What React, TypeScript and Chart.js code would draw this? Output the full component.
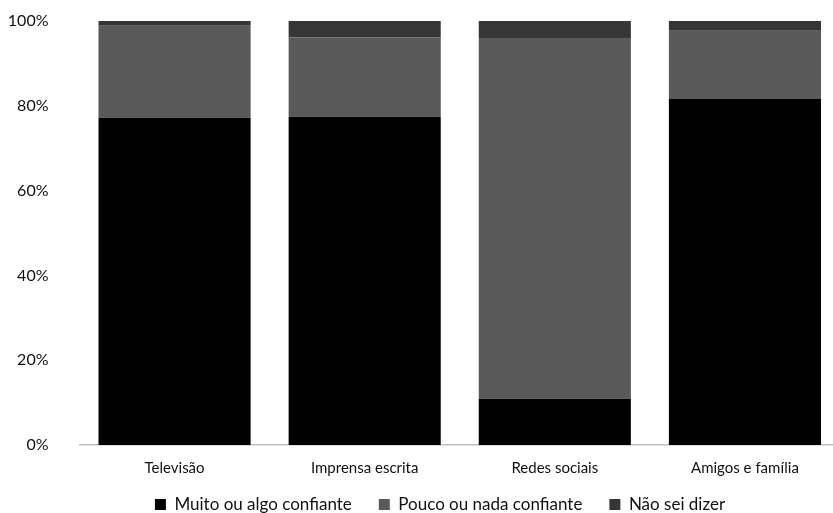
import React, { useEffect, useRef } from "react";
import { Chart, registerables } from "chart.js";

Chart.register(...registerables);

const categories = ["Televisão", "Imprensa escrita", "Redes sociais", "Amigos e família"];
const muitoConfiante = [77.2, 77.4, 10.9, 81.6];
const poucoConfiante = [21.7, 18.7, 85.1, 16.1];
const naoSeiDizer = [1.1, 3.9, 4.0, 2.3];
const seriesLabels = ["Muito ou algo confiante", "Pouco ou nada confiante", "Não sei dizer"];
const seriesColors = ["#000000", "#595959", "#363636"];
const yTicks = [0, 20, 40, 60, 80, 100];

const FONT = "Lato, 'Open Sans', sans-serif";

const legendShift = {
  id: "legendShift",
  afterLayout(chart: any) {
    const lg = chart.legend;
    if (lg) {
      lg.left += 20;
      lg.right += 20;
      lg.top -= 10;
      lg.bottom -= 10;
    }
  },
};

export default function App() {
  const ref = useRef<HTMLCanvasElement | null>(null);
  useEffect(() => {
    document.body.style.overflow = "hidden";
    const ctx = ref.current!;
    const chart = new Chart(ctx, {
      type: "bar",
      data: {
        labels: categories,
        datasets: [muitoConfiante, poucoConfiante, naoSeiDizer].map((d, i) => ({
          label: seriesLabels[i],
          data: d,
          backgroundColor: seriesColors[i],
          borderWidth: 0,
          barPercentage: 0.8,
          categoryPercentage: 1,
        })),
      },
      plugins: [legendShift],
      options: {
        responsive: false,
        animation: false,
        devicePixelRatio: 1,
        layout: { padding: { top: 21, right: 0, left: 0, bottom: -20 } },
        plugins: {
          tooltip: { enabled: false },
          legend: {
            position: "bottom",
            labels: {
              boxWidth: 11,
              boxHeight: 11,
              padding: 27,
              color: "#111",
              font: { family: FONT, size: 17 },
            },
          },
        },
        scales: {
          x: {
            stacked: true,
            grid: { display: false, drawTicks: false },
            border: { display: true, color: "#c0c0c0", width: 1.5 },
            ticks: { color: "#111", font: { family: FONT, size: 15 }, padding: 14 },
            afterFit: (s: any) => {
              s.height = 34;
            },
          },
          y: {
            stacked: true,
            min: 0,
            max: 100,
            afterBuildTicks: (s: any) => {
              s.ticks = yTicks.map((v) => ({ value: v }));
            },
            grid: { display: false, drawTicks: true, tickLength: 31, tickColor: "rgba(0,0,0,0)" },
            border: { display: false },
            ticks: {
              color: "#111",
              font: { family: FONT, size: 16 },
              padding: 0,
              callback: (v: any) => v + "%",
            },
            afterFit: (s: any) => {
              s.width = 79.5;
            },
          },
        },
      },
    });
    return () => chart.destroy();
  }, []);
  return (
    <div style={{ position: "fixed", left: 0, top: 0, width: 840, height: 513 }}>
      <canvas ref={ref} width={840} height={513} />
    </div>
  );
}
